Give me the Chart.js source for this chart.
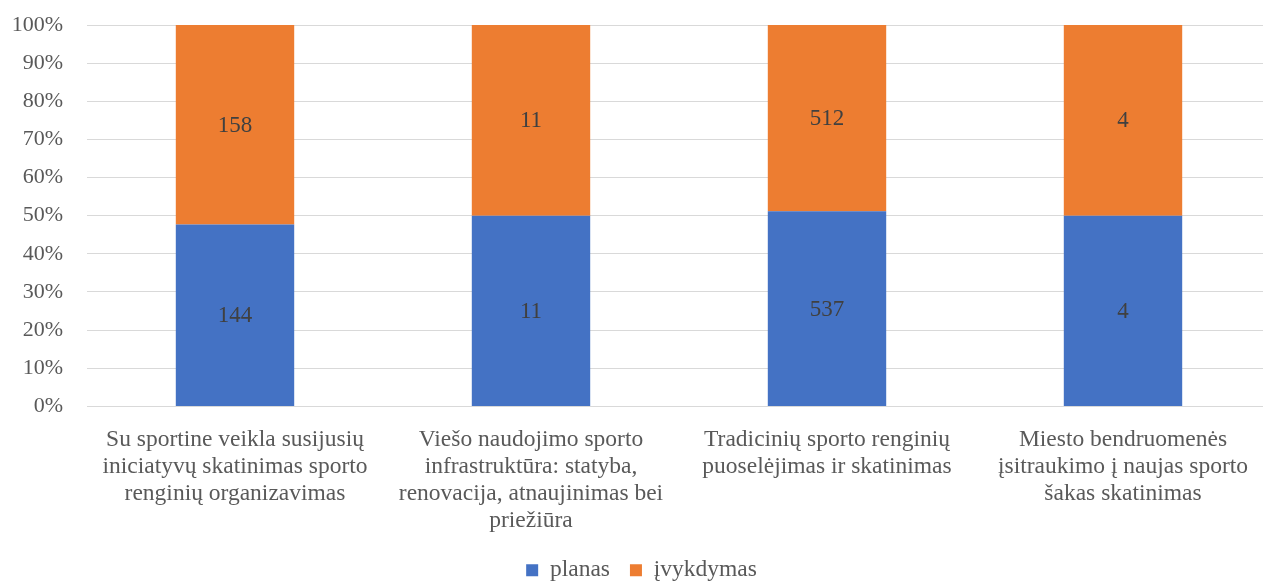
<!DOCTYPE html>
<html>
<head>
<meta charset="utf-8">
<script src="https://cdn.jsdelivr.net/npm/chart.js@4.4.1/dist/chart.umd.min.js"></script>
<style>
  html, body { margin: 0; padding: 0; background: #fff; overflow: hidden; }
  #wrap { width: 1271px; height: 592px; position: relative; }
</style>
</head>
<body>
<div id="wrap"><canvas id="stack"></canvas></div>
<script>
var categories = [
  ['Su sportine veikla susijusių', 'iniciatyvų skatinimas sporto', 'renginių organizavimas'],
  ['Viešo naudojimo sporto', 'infrastruktūra: statyba,', 'renovacija, atnaujinimas bei', 'priežiūra'],
  ['Tradicinių sporto renginių', 'puoselėjimas ir skatinimas'],
  ['Miesto bendruomenės', 'įsitraukimo į naujas sporto', 'šakas skatinimas']
]
var planas = [144, 11, 537, 4]
var ivykdymas = [158, 11, 512, 4]
var seriesNames = ['planas', 'įvykdymas']
var seriesColors = ['#4472c4', '#ed7d31']

// 100% stacked: share of each series in the category total
function share(arr, i) { return arr[i] / (planas[i] + ivykdymas[i]) * 100 }
var planasPct = planas.map(function (v, i) { return share(planas, i) })
var ivykdymasPct = ivykdymas.map(function (v, i) { return share(ivykdymas, i) })
var rawValues = [planas, ivykdymas]

var serif = "'Liberation Serif', 'Times New Roman', serif"

var valueLabels = {
  id: 'valueLabels',
  afterDatasetsDraw: function (chart) {
    var ctx = chart.ctx
    ctx.save()
    ctx.font = '23px ' + serif
    ctx.fillStyle = '#404040'
    ctx.textAlign = 'center'
    ctx.textBaseline = 'middle'
    chart.data.datasets.forEach(function (ds, di) {
      chart.getDatasetMeta(di).data.forEach(function (bar, i) {
        var p = bar.getProps(['x', 'y', 'base'], true)
        ctx.fillText(rawValues[di][i], p.x, (p.y + p.base) / 2 + 1)
      })
    })
    ctx.restore()
  }
}

var chart = new Chart(document.getElementById('stack').getContext('2d'), {
  type: 'bar',
  data: {
    labels: categories,
    datasets: [
      { label: seriesNames[0], data: planasPct, backgroundColor: seriesColors[0] },
      { label: seriesNames[1], data: ivykdymasPct, backgroundColor: seriesColors[1] }
    ]
  },
  plugins: [valueLabels],
  options: {
    responsive: true,
    maintainAspectRatio: false,
    animation: false,
    layout: { padding: { left: 12, top: 0, right: 0, bottom: 0 } },
    datasets: { bar: { barPercentage: 0.4, categoryPercentage: 1 } },
    scales: {
      x: {
        stacked: true,
        grid: { display: false },
        border: { display: false },
        afterFit: function (s) { s.height -= 8 },
        ticks: {
          color: '#595959',
          font: { family: serif, size: 23.5, lineHeight: 1.15 },
          padding: 12,
          maxRotation: 0,
          autoSkip: false
        }
      },
      y: {
        stacked: true,
        min: 0,
        max: 100,
        afterFit: function (s) {
          s.width = 75
          s.paddingTop = 25
          s.paddingBottom = 0
        },
        grid: { color: '#d9d9d9', lineWidth: 1, drawTicks: false },
        border: { display: false },
        ticks: {
          stepSize: 10,
          color: '#595959',
          font: { family: serif, size: 22 },
          padding: 24,
          callback: function (v) { return v + '%' }
        }
      }
    },
    plugins: {
      tooltip: { enabled: false },
      legend: {
        position: 'bottom',
        labels: {
          color: '#595959',
          font: { family: serif, size: 23.5 },
          boxWidth: 12,
          boxHeight: 12,
          padding: 20
        }
      }
    }
  }
})
</script>
</body>
</html>
